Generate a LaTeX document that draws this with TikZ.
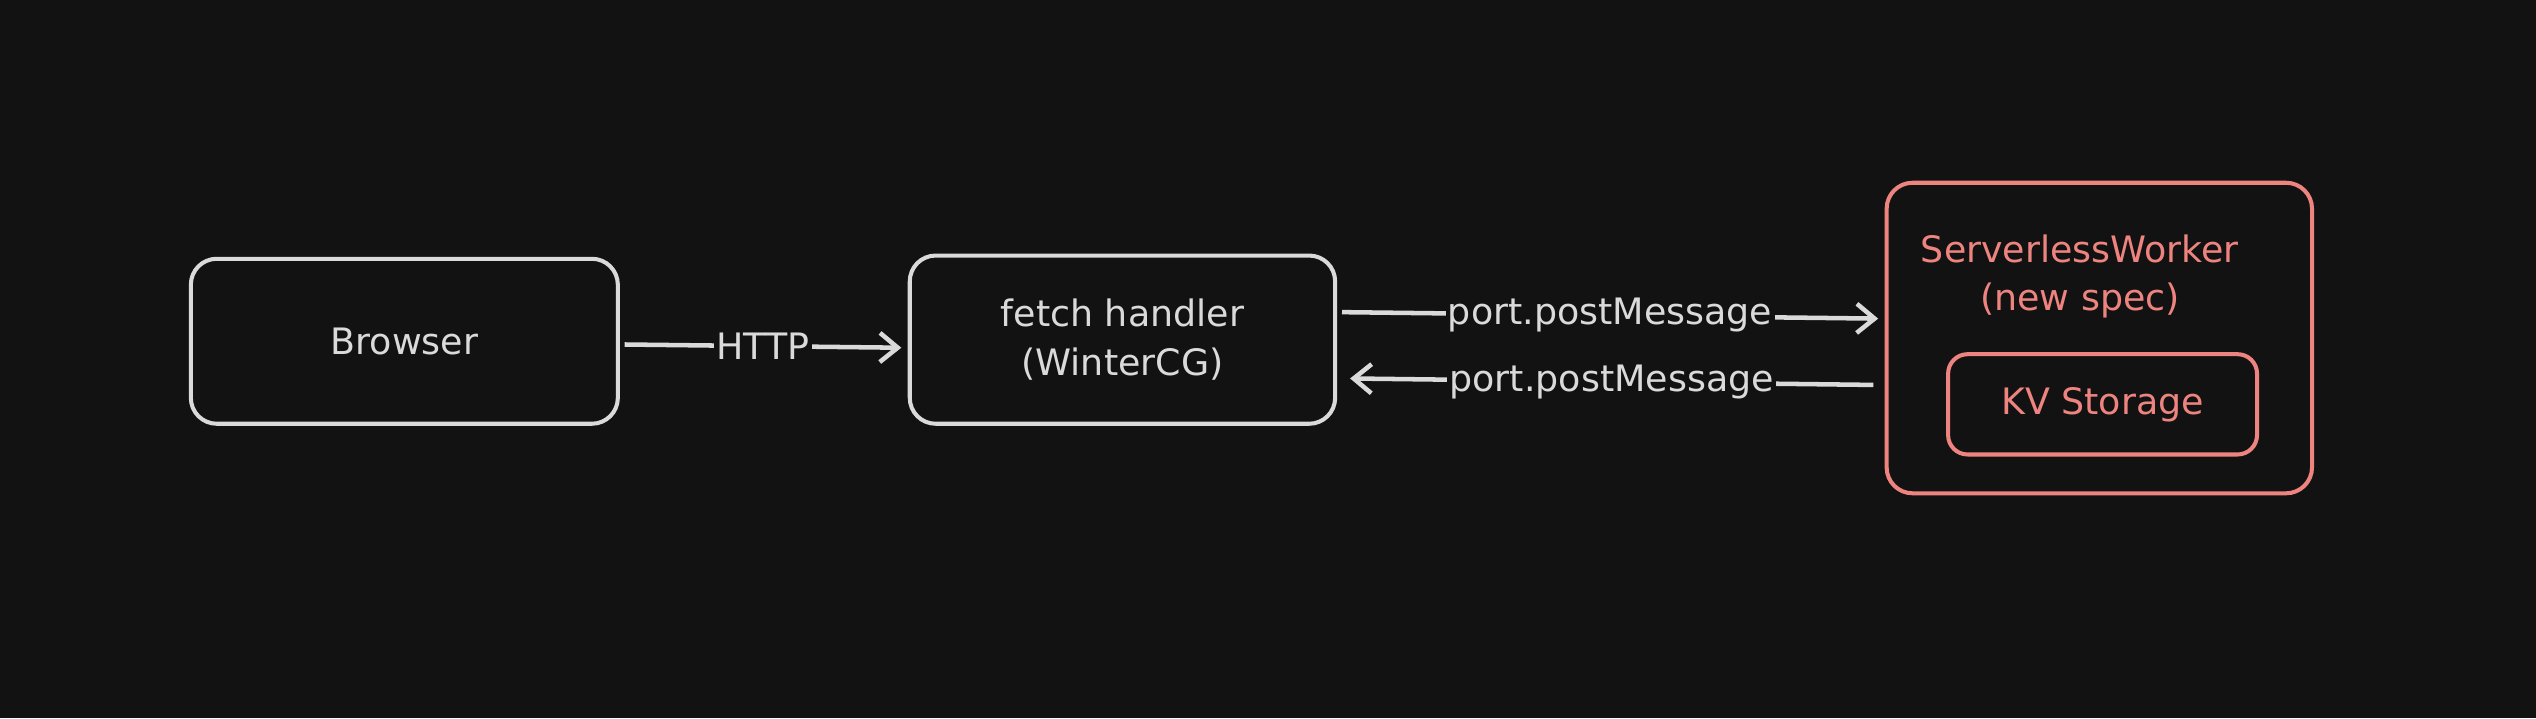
\documentclass[tikz,border=0pt]{standalone}
\usepackage{fontspec}
\setmainfont{DejaVu Sans}
\usetikzlibrary{arrows.meta}
\definecolor{bg}{RGB}{18,18,18}
\definecolor{ink}{RGB}{218,218,218}
\definecolor{salmon}{RGB}{238,132,128}
\tikzset{
  box/.style={draw=ink, line width=2.5pt, rounded corners=16pt, text=ink, align=center, font=\fontsize{22.5}{30}\selectfont, inner sep=0pt},
  redbox/.style={box, draw=salmon, text=salmon},
  arr/.style={draw=ink, line width=2.8pt, -{Straight Barb[length=11pt,width=18pt,line width=2.8pt]}},
  lbl/.style={fill=bg, text=ink, font=\fontsize{22.5}{26}\selectfont, inner sep=1.5pt},
  plain/.style={text=salmon, align=center, font=\fontsize{22.5}{30}\selectfont}
}
\begin{document}
\begin{tikzpicture}[x=1pt,y=-1pt]
\fill[bg] (0,0) rectangle (1568,444);
\useasboundingbox (0,0) rectangle (1568,444);
\node[box, minimum width=264pt, minimum height=102pt] (browser) at (250,211) {Browser};
\node[box, minimum width=263pt, minimum height=104pt] (fetch) at (694,210) {fetch handler\\(WinterCG)};
\node[redbox, minimum width=263pt, minimum height=192pt] (sw) at (1298,209) {};
\node[plain] (swlabel) at (1286,171) {ServerlessWorker\\(new spec)};
\node[redbox, rounded corners=12pt, minimum width=191pt, minimum height=62pt] (kv) at (1300,250) {KV Storage};
\draw[arr] ([xshift=3pt,yshift=-2pt]browser.east) -- node[lbl] (http) {HTTP} ([xshift=-4pt,yshift=-5pt]fetch.west);
\draw[arr] ([xshift=3pt,yshift=17pt]fetch.east) -- node[lbl] (pm1) {port.postMessage} ([xshift=-4pt,yshift=12pt]sw.west);
\draw[arr] ([xshift=-7pt,yshift=-29pt]sw.west) -- node[lbl] (pm2) {port.postMessage} ([xshift=8pt,yshift=-24pt]fetch.east);
\end{tikzpicture}
\end{document}
